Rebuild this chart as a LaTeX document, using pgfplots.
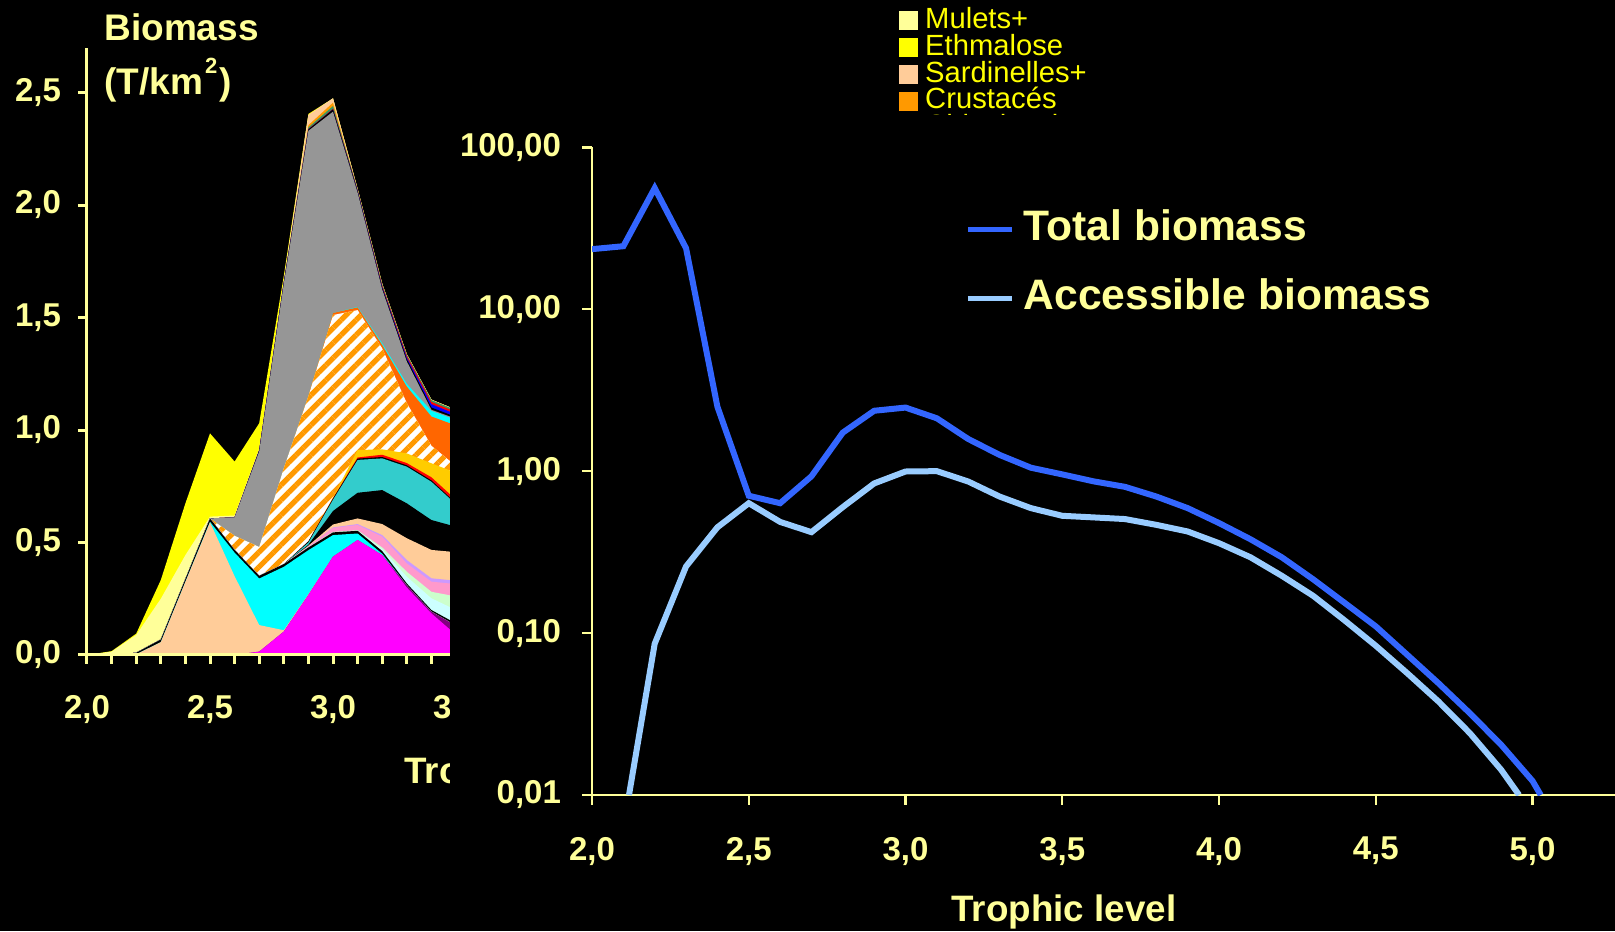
\documentclass[border=0pt]{standalone}
\usepackage{fontspec}
\setmainfont{Liberation Sans}
\usepackage{pgfplots}
\usepackage{pgfplotstable}
\pgfplotsset{compat=1.18}
\usetikzlibrary{patterns.meta}
\definecolor{axisyellow}{HTML}{FFFF99}
\definecolor{legyellow}{HTML}{FFFF00}
\definecolor{totalblue}{HTML}{3366FF}
\definecolor{accblue}{HTML}{99CCFF}
\definecolor{cMag}{HTML}{FF00FF}
\definecolor{cDpurp}{HTML}{800080}
\definecolor{cPeach}{HTML}{FFCC99}
\definecolor{cCyan}{HTML}{00FFFF}
\definecolor{cLcyan}{HTML}{CCFFFF}
\definecolor{cLgreen}{HTML}{CCFFCC}
\definecolor{cPink}{HTML}{FF99CC}
\definecolor{cLav}{HTML}{CC99FF}
\definecolor{cTeal}{HTML}{33CCCC}
\definecolor{cRed}{HTML}{FF0000}
\definecolor{cGold}{HTML}{FFCC00}
\definecolor{cHatch}{HTML}{FF9900}
\definecolor{cOrange}{HTML}{FF6600}
\definecolor{cGray}{HTML}{969696}
\definecolor{cBlue}{HTML}{0000FF}
\definecolor{cDgreen}{HTML}{339966}
\definecolor{cMulets}{HTML}{FFFF99}
\definecolor{cYellow}{HTML}{FFFF00}

\pgfplotstableread{
x   L1    L2    L3    L4    L5    L6    L7    L8    L9    L10   L11   L12   L13   L14   L15   L16   L17   L18   L19   L20   L21   L22   L23   L24   L25   L26   L27
2.0 0     0     0     0     0     0     0     0     0     0     0     0     0     0     0     0     0     0     0     0     0     0     0     0     0     0     0
2.1 0     0     0     0     0     0     0     0     0     0     0     0     0     0     0     0     0     0     0     0     0     0     0     0     0     0.015 0.017
2.2 0     0     0.003 0.003 0.010 0.010 0.010 0.010 0.010 0.010 0.010 0.010 0.010 0.010 0.010 0.010 0.010 0.010 0.010 0.010 0.010 0.010 0.010 0.010 0.010 0.089 0.095
2.3 0     0     0.057 0.057 0.069 0.069 0.069 0.069 0.069 0.069 0.069 0.069 0.069 0.069 0.069 0.069 0.069 0.069 0.069 0.069 0.069 0.069 0.069 0.069 0.069 0.250 0.333
2.4 0     0     0.325 0.325 0.338 0.338 0.338 0.338 0.338 0.338 0.338 0.338 0.338 0.338 0.338 0.338 0.338 0.338 0.338 0.338 0.338 0.338 0.338 0.338 0.338 0.444 0.674
2.5 0     0     0.590 0.592 0.607 0.607 0.607 0.607 0.607 0.607 0.607 0.607 0.607 0.607 0.607 0.607 0.607 0.607 0.607 0.607 0.607 0.607 0.607 0.607 0.607 0.615 0.985
2.6 0     0     0.350 0.455 0.467 0.467 0.467 0.467 0.467 0.467 0.467 0.467 0.467 0.467 0.467 0.530 0.530 0.530 0.612 0.612 0.612 0.612 0.612 0.612 0.615 0.620 0.860
2.7 0.015 0.015 0.133 0.340 0.352 0.352 0.352 0.352 0.352 0.352 0.352 0.352 0.352 0.352 0.352 0.480 0.480 0.480 0.905 0.910 0.910 0.910 0.910 0.910 0.912 0.915 1.030
2.8 0.104 0.104 0.110 0.392 0.404 0.404 0.404 0.404 0.404 0.404 0.404 0.404 0.404 0.404 0.404 0.830 0.830 0.830 1.650 1.657 1.657 1.657 1.657 1.657 1.663 1.667 1.685
2.9 0.267 0.267 0.270 0.466 0.478 0.478 0.478 0.482 0.482 0.486 0.490 0.500 0.505 0.505 0.505 1.150 1.155 1.155 2.330 2.336 2.336 2.338 2.345 2.355 2.400 2.400 2.405
3.0 0.437 0.437 0.437 0.533 0.545 0.545 0.547 0.565 0.567 0.580 0.640 0.690 0.695 0.697 0.700 1.511 1.520 1.520 2.415 2.425 2.425 2.428 2.440 2.455 2.474 2.474 2.474
3.1 0.511 0.511 0.511 0.540 0.552 0.553 0.555 0.578 0.582 0.607 0.721 0.867 0.873 0.878 0.911 1.533 1.545 1.547 2.055 2.062 2.063 2.066 2.070 2.070 2.072 2.072 2.072
3.2 0.444 0.444 0.444 0.450 0.462 0.470 0.478 0.526 0.533 0.582 0.733 0.874 0.880 0.890 0.914 1.363 1.378 1.385 1.625 1.633 1.636 1.642 1.648 1.648 1.650 1.650 1.650
3.3 0.300 0.310 0.310 0.310 0.318 0.348 0.370 0.407 0.422 0.519 0.674 0.837 0.843 0.853 0.896 1.120 1.193 1.205 1.305 1.315 1.322 1.330 1.335 1.335 1.337 1.337 1.337
3.4 0.185 0.193 0.193 0.193 0.200 0.252 0.281 0.326 0.341 0.467 0.600 0.770 0.776 0.790 0.852 0.930 1.060 1.085 1.090 1.100 1.115 1.125 1.133 1.133 1.135 1.135 1.135
3.5 0.090 0.130 0.130 0.130 0.140 0.200 0.260 0.315 0.330 0.457 0.570 0.670 0.675 0.690 0.810 0.840 1.020 1.045 1.050 1.058 1.070 1.080 1.088 1.088 1.090 1.090 1.090
}\leftdata

\pgfplotstableread{
x     total
2.0   23.5
2.1   24.5
2.2   56.0
2.3   23.8
2.4   2.50
2.5   0.705
2.6   0.634
2.7   0.93
2.8   1.73
2.9   2.36
3.0   2.47
3.1   2.12
3.2   1.58
3.3   1.26
3.4   1.05
3.5   0.955
3.6   0.865
3.7   0.80
3.8   0.697
3.9   0.591
4.0   0.478
4.1   0.380
4.2   0.294
4.3   0.215
4.4   0.154
4.5   0.110
4.6   0.0735
4.7   0.049
4.8   0.032
4.9   0.0204
5.0   0.0122
5.026 0.0100
}\totaldata

\pgfplotstableread{
x     acc
2.118 0.0100
2.2   0.086
2.3   0.258
2.4   0.450
2.5   0.634
2.6   0.486
2.7   0.420
2.8   0.600
2.9   0.840
3.0   0.995
3.1   1.000
3.2   0.863
3.3   0.697
3.4   0.591
3.5   0.530
3.6   0.518
3.7   0.506
3.8   0.466
3.9   0.424
4.0   0.359
4.1   0.294
4.2   0.226
4.3   0.170
4.4   0.120
4.5   0.0835
4.6   0.0566
4.7   0.0378
4.8   0.0241
4.9   0.0143
4.957 0.0100
}\accdata

\begin{document}
\begin{tikzpicture}
\path[use as bounding box, fill=black] (0,0) rectangle (807.5pt,465.5pt);

% ---------------- left stacked area chart ----------------
\begin{axis}[
  at={(43.5pt,138pt)}, anchor=south west,
  scale only axis, width=184.5pt, height=303.5pt,
  xmin=2, xmax=3.5, ymin=0, ymax=2.698,
  axis lines=left,
  axis line style={-, draw=axisyellow, line width=1.5pt},
  axis on top,
  xtick={2,2.5,3,3.5},
  minor xtick={2.1,2.2,2.3,2.4,2.6,2.7,2.8,2.9,3.1,3.2,3.3,3.4},
  ytick={0,0.5,1,1.5,2,2.5},
  tick align=outside, xtick pos=bottom, ytick pos=left,
  major tick length=4.5pt, minor tick length=4.5pt,
  every tick/.style={draw=axisyellow, line width=1.5pt},
  minor tick style={draw=axisyellow, line width=1.5pt},
  /pgf/number format/.cd, use comma, fixed, fixed zerofill, precision=1, assume math mode=true,
  /pgfplots/.cd,
  ticklabel style={font=\fontsize{16.5}{19}\selectfont\bfseries, text=axisyellow},
  xticklabel style={yshift=-12pt},
  yticklabel style={xshift=-5pt},
  legend style={at={(axis description cs:2.2,1.0675)}, anchor=north west,
    draw=none, fill=none, inner sep=0pt, text=legyellow,
    font=\fontsize{14.6}{15}\selectfont, row sep=0pt, column sep=3.5pt,
    nodes={inner sep=0pt, text height=10.5pt, text depth=2.9pt}},
  legend cell align=left,
  legend image code/.code={\fill[#1] (0pt,-4.75pt) rectangle (9.5pt,4.75pt);},
]
\addlegendimage{fill=cMulets, draw=none}\addlegendentry{Mulets+}
\addlegendimage{fill=cYellow, draw=none}\addlegendentry{Ethmalose}
\addlegendimage{fill=cPeach, draw=none}\addlegendentry{Sardinelles+}
\addlegendimage{fill=cHatch, draw=none}\addlegendentry{Crustacés}
\addlegendimage{fill=cDgreen, draw=none}\addlegendentry{Chinchards}

\addplot[fill=cYellow, draw=none, forget plot] table[x=x,y=L27]{\leftdata} \closedcycle;
\addplot[fill=cMulets, draw=none, forget plot] table[x=x,y=L26]{\leftdata} \closedcycle;
\addplot[fill=cPeach, draw=none, forget plot] table[x=x,y=L25]{\leftdata} \closedcycle;
\addplot[fill=cHatch, draw=none, forget plot] table[x=x,y=L24]{\leftdata} \closedcycle;
\addplot[fill=cDgreen, draw=none, forget plot] table[x=x,y=L23]{\leftdata} \closedcycle;
\addplot[fill=cRed, draw=none, forget plot] table[x=x,y=L22]{\leftdata} \closedcycle;
\addplot[fill=cBlue, draw=none, forget plot] table[x=x,y=L21]{\leftdata} \closedcycle;
\addplot[fill=black, draw=none, forget plot] table[x=x,y=L20]{\leftdata} \closedcycle;
\addplot[fill=cGray, draw=none, forget plot] table[x=x,y=L19]{\leftdata} \closedcycle;
\addplot[fill=cCyan, draw=none, forget plot] table[x=x,y=L18]{\leftdata} \closedcycle;
\addplot[fill=cOrange, draw=none, forget plot] table[x=x,y=L17]{\leftdata} \closedcycle;
\addplot[fill=white, draw=none, forget plot,
  postaction={pattern={Lines[angle=45,distance=5.3pt,line width=2.6pt]}, pattern color=cHatch}]
  table[x=x,y=L16]{\leftdata} \closedcycle;
\addplot[fill=cGold, draw=none, forget plot] table[x=x,y=L15]{\leftdata} \closedcycle;
\addplot[fill=cRed, draw=none, forget plot] table[x=x,y=L14]{\leftdata} \closedcycle;
\addplot[fill=black, draw=none, forget plot] table[x=x,y=L13]{\leftdata} \closedcycle;
\addplot[fill=cTeal, draw=none, forget plot] table[x=x,y=L12]{\leftdata} \closedcycle;
\addplot[fill=black, draw=none, forget plot] table[x=x,y=L11]{\leftdata} \closedcycle;
\addplot[fill=cPeach, draw=none, forget plot] table[x=x,y=L10]{\leftdata} \closedcycle;
\addplot[fill=cLav, draw=none, forget plot] table[x=x,y=L9]{\leftdata} \closedcycle;
\addplot[fill=cPink, draw=none, forget plot] table[x=x,y=L8]{\leftdata} \closedcycle;
\addplot[fill=cLgreen, draw=none, forget plot] table[x=x,y=L7]{\leftdata} \closedcycle;
\addplot[fill=cLcyan, draw=none, forget plot] table[x=x,y=L6]{\leftdata} \closedcycle;
\addplot[fill=black, draw=none, forget plot] table[x=x,y=L5]{\leftdata} \closedcycle;
\addplot[fill=cCyan, draw=none, forget plot] table[x=x,y=L4]{\leftdata} \closedcycle;
\addplot[fill=cPeach, draw=none, forget plot] table[x=x,y=L3]{\leftdata} \closedcycle;
\addplot[fill=cDpurp, draw=none, forget plot] table[x=x,y=L2]{\leftdata} \closedcycle;
\addplot[fill=cMag, draw=none, forget plot] table[x=x,y=L1]{\leftdata} \closedcycle;
\end{axis}

\node[anchor=base west, inner sep=0pt, text=axisyellow, font=\fontsize{18.5}{20}\selectfont\bfseries] at (52pt,445pt) {Biomass};
\node[anchor=base west, inner sep=0pt, text=axisyellow, font=\fontsize{18.5}{20}\selectfont\bfseries] at (52pt,418pt) {(T/km\kern1pt\raisebox{1.1ex}{\fontsize{11}{12}\selectfont 2}\kern1pt)};
\node[anchor=base west, inner sep=0pt, text=axisyellow, font=\fontsize{18.4}{20}\selectfont\bfseries] at (202pt,74pt) {Trophic level};

% cover of the second chart
\fill[black] (225pt,0pt) rectangle (807.5pt,408pt);

% ---------------- right log chart ----------------
\begin{axis}[
  at={(296pt,68pt)}, anchor=south west,
  scale only axis, width=511.5pt, height=323.85pt,
  xmin=2, xmax=5.263, ymode=log, ymin=0.01, ymax=100,
  axis lines=left,
  axis line style={-, draw=axisyellow, line width=1.2pt},
  xtick={2,2.5,3,3.5,4,4.5,5},
  ytick={0.01,0.1,1,10,100},
  yticklabels={{0,01},{0,10},{1,00},{10,00},{100,00}},
  yminorticks=false,
  tick align=outside, xtick pos=bottom, ytick pos=left,
  major tick length=5pt,
  every tick/.style={draw=axisyellow, line width=1.2pt},
  /pgf/number format/.cd, use comma, fixed, fixed zerofill, precision=1, assume math mode=true,
  /pgfplots/.cd,
  ticklabel style={font=\fontsize{16.5}{19}\selectfont\bfseries, text=axisyellow},
  xticklabel style={yshift=-12.5pt},
  yticklabel style={xshift=-7pt},
  legend style={at={(axis description cs:0.3646,0.905)}, anchor=north west,
    draw=none, fill=none, inner sep=0pt, text=axisyellow,
    font=\fontsize{21.3}{24}\selectfont\bfseries, row sep=14.5pt, column sep=4.8pt,
    nodes={inner sep=0pt, text height=15.5pt, text depth=4.5pt}},
  legend cell align=left,
  legend image code/.code={\draw[#1, line width=2.4pt] (0pt,0pt) -- (22pt,0pt);},
]
\addplot[totalblue, line width=3pt] table[x=x,y=total]{\totaldata};
\addlegendentry{Total biomass}
\addplot[accblue, line width=3pt] table[x=x,y=acc]{\accdata};
\addlegendentry{Accessible biomass}
\end{axis}

\node[anchor=base, inner sep=0pt, text=axisyellow, font=\fontsize{18.4}{20}\selectfont\bfseries] at (532pt,5pt) {Trophic level};
\end{tikzpicture}
\end{document}
